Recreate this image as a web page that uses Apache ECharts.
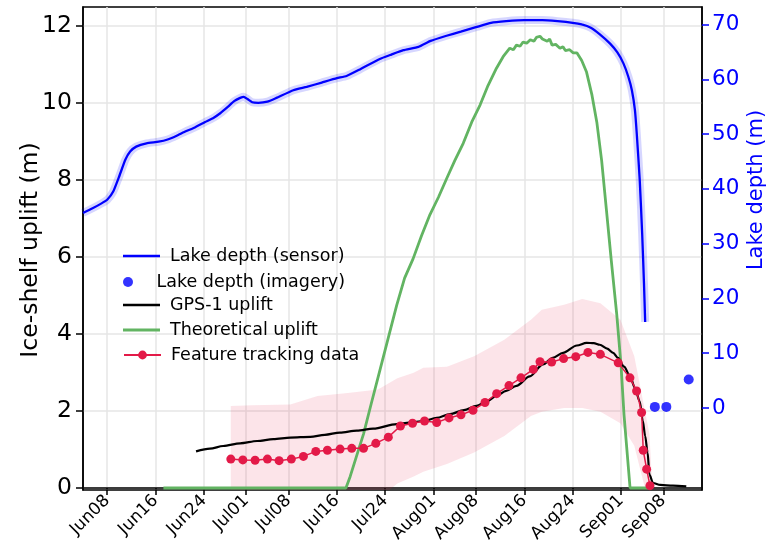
<!DOCTYPE html>
<html>
<head>
<meta charset="utf-8">
<script src="https://cdn.jsdelivr.net/npm/echarts/dist/echarts.min.js"></script>
<style>html,body{margin:0;padding:0;background:#fff}#c{width:769px;height:555px}</style>
</head>
<body>
<div id="c"></div>
<script>
// x values are day numbers counted from Jun 1 = 1
const tickDays = [8,16,24,31,38,46,54,62,69,77,85,93,100];
const tickLabels = ['Jun08','Jun16','Jun24','Jul01','Jul08','Jul16','Jul24','Aug01','Aug08','Aug16','Aug24','Sep01','Sep08'];
const upliftTicks = [0,2,4,6,8,10,12];
const depthTicks = [0,10,20,30,40,50,60,70];

const lakeSensor = [[4.0,35.6],[5.5,36.4],[7.0,37.3],[8.0,38.0],[9.0,39.5],[10.0,42.3],[11.0,45.3],[11.8,46.8],[12.8,47.7],[14.5,48.3],[16.5,48.6],[18.0,49.0],[19.5,49.7],[21.0,50.5],[22.5,51.2],[24.2,52.2],[25.5,52.9],[26.7,53.8],[28.0,55.0],[29.0,56.0],[30.0,56.6],[30.6,56.8],[31.2,56.4],[32.0,55.8],[33.0,55.7],[34.5,55.9],[36.0,56.6],[38.8,58.0],[41.0,58.6],[43.5,59.4],[46.0,60.2],[47.6,60.6],[49.8,61.8],[53.1,63.7],[55.0,64.5],[57.0,65.3],[59.5,65.9],[61.5,67.0],[64.0,67.9],[66.5,68.7],[69.0,69.5],[71.5,70.3],[74.0,70.6],[77.0,70.8],[80.0,70.8],[82.5,70.6],[85.0,70.3],[86.5,70.0],[88.0,69.4],[89.5,68.2],[91.2,66.5],[92.4,64.9],[93.4,62.9],[94.2,60.5],[94.8,58.0],[95.3,54.4],[95.6,50.2],[96.1,41.6],[96.5,31.9],[96.8,22.8],[97.0,15.7]];
const lakeImagery = [[98.6,0.2],[100.5,0.2],[104.2,5.2]];
const gpsUplift = [[22.7,0.95],[25.0,1.02],[27.2,1.09],[30.0,1.16],[32.8,1.22],[35.5,1.27],[38.3,1.31],[41.6,1.33],[44.0,1.38],[46.5,1.44],[49.3,1.49],[52.0,1.54],[55.9,1.66],[58.0,1.70],[60.3,1.74],[62.5,1.82],[64.7,1.92],[67.0,2.02],[69.1,2.13],[70.8,2.25],[72.4,2.39],[74.0,2.52],[75.7,2.65],[77.9,2.90],[80.1,3.21],[81.7,3.38],[83.4,3.51],[85.7,3.70],[87.3,3.77],[88.5,3.76],[89.5,3.72],[90.7,3.62],[91.7,3.51],[92.5,3.38],[93.5,3.15],[94.5,2.90],[95.3,2.60],[96.1,2.25],[96.6,1.75],[97.0,1.35],[97.4,0.92],[97.7,0.35],[98.3,0.13],[99.5,0.08],[101.6,0.06],[103.8,0.04]];
const theoretical = [[17.3,0],[47.5,0],[48.2,0.3],[49.2,0.8],[50.4,1.4],[51.7,2.2],[53.1,3.05],[54.5,3.9],[55.9,4.75],[57.2,5.45],[58.6,5.95],[60.0,6.55],[61.4,7.1],[62.8,7.55],[64.2,8.05],[65.5,8.5],[66.9,8.95],[68.3,9.5],[69.7,9.95],[71.0,10.45],[72.4,10.9],[73.5,11.2],[74.6,11.42],[75.2,11.38],[75.7,11.5],[76.3,11.47],[76.8,11.58],[77.4,11.55],[78.0,11.64],[78.6,11.6],[79.0,11.7],[79.6,11.73],[80.0,11.66],[80.3,11.7],[80.8,11.6],[81.2,11.66],[81.6,11.5],[82.2,11.52],[82.9,11.42],[83.4,11.46],[83.8,11.36],[84.5,11.38],[85.1,11.3],[85.7,11.3],[86.5,11.1],[87.3,10.8],[88.2,10.2],[89.0,9.5],[89.8,8.5],[90.6,7.2],[91.4,5.9],[92.3,4.5],[93.0,3.2],[93.5,1.9],[94.5,0],[98.0,0]];
const featureTracking = [[28.45,0.75],[30.44,0.73],[32.47,0.72],[34.51,0.75],[36.44,0.71],[38.47,0.75],[40.46,0.82],[42.51,0.95],[44.43,0.98],[46.53,1.01],[48.46,1.03],[50.41,1.03],[52.44,1.16],[54.51,1.32],[56.51,1.61],[58.51,1.68],[60.50,1.74],[62.51,1.70],[64.55,1.82],[66.53,1.90],[68.52,2.02],[70.50,2.22],[72.43,2.45],[74.47,2.66],[76.45,2.86],[78.49,3.08],[79.60,3.28],[81.53,3.27],[83.51,3.36],[85.52,3.41],[87.53,3.52],[89.58,3.47],[92.54,3.25],[94.48,2.86],[95.58,2.52],[96.41,1.96],[96.68,0.98],[97.24,0.49],[97.79,0.06]];
const bandDays  = [28.45,32.0,38.3,42.8,47.8,52.8,56.0,58.7,60.3,64.2,68.7,73.7,78.1,79.9,83.6,86.6,89.6,92.9,95.2,96.8,97.7,98.2];
const bandUpper = [2.13,2.15,2.17,2.39,2.47,2.56,2.85,2.99,3.12,3.15,3.42,3.85,4.37,4.63,4.76,4.91,4.80,4.37,3.42,2.13,1.40,0.0];
const bandLower = [-0.3,-0.3,-0.3,-0.3,-0.3,-0.3,0.12,0.30,0.42,0.62,0.92,1.35,1.87,1.98,2.08,2.08,1.98,1.68,1.10,0.10,-0.3,-0.3];

const FONT = 'DejaVu Sans';
const chart = echarts.init(document.getElementById('c'), null, {renderer: 'canvas'});

function legendAt(name, centerY, icon, h) {
  const lg = {
    data: [name], left: 118, top: centerY - 11, orient: 'vertical',
    itemWidth: 37, itemHeight: h,
    textStyle: {fontFamily: FONT, fontSize: 17.5, color: '#000', padding: [0,0,0,5]},
    selectedMode: false
  };
  if (icon) lg.icon = icon;
  return lg;
}

chart.setOption({
  animation: false,
  backgroundColor: '#fff',
  grid: {left: 83, right: 67, top: 7, bottom: 65, show: true, borderColor: '#000', borderWidth: 1.5, backgroundColor: 'transparent'},
  legend: [
    legendAt('Lake depth (sensor)', 253, 'rect', 2.5),
    legendAt('Lake depth (imagery)', 279, 'circle', 10),
    legendAt('GPS-1 uplift', 302, 'rect', 2.5),
    legendAt('Theoretical uplift', 327, 'rect', 3),
    legendAt('Feature tracking data', 352, null, 11)
  ],
  graphic: [
    {type: 'text', x: 31, y: 250, rotation: Math.PI / 2, silent: true,
      style: {text: 'Ice-shelf uplift (m)', fontFamily: FONT, fontSize: 23.5, fill: '#000', textAlign: 'center', textVerticalAlign: 'middle'}},
    {type: 'text', x: 757, y: 190, rotation: Math.PI / 2, silent: true,
      style: {text: 'Lake depth (m)', fontFamily: FONT, fontSize: 21, fill: '#0000ff', textAlign: 'center', textVerticalAlign: 'middle'}}
  ],
  xAxis: {
    type: 'value', min: 4, max: 106.4,
    axisLine: {show: true, lineStyle: {color: '#000', width: 1.5}},
    axisTick: {show: true, customValues: tickDays, length: 7, lineStyle: {color: '#000', width: 1.5}},
    axisLabel: {customValues: tickDays, rotate: 45, margin: 8, fontFamily: FONT, fontSize: 17, color: '#000',
      formatter: function (v) { const i = tickDays.indexOf(v); return i >= 0 ? tickLabels[i] : ''; }},
    splitLine: {show: true, lineStyle: {color: '#e6e6e6', width: 1.5}}
  },
  yAxis: [
    {
      type: 'value', min: -0.052, max: 12.49, position: 'left',
      axisLine: {show: true, lineStyle: {color: '#000', width: 1.5}},
      axisTick: {show: true, customValues: upliftTicks, length: 7, lineStyle: {color: '#000', width: 1.5}},
      axisLabel: {customValues: upliftTicks, margin: 11, fontFamily: FONT, fontSize: 23.5, color: '#000'},
      splitLine: {show: true, lineStyle: {color: '#e6e6e6', width: 1.5}}
    },
    {
      type: 'value', min: -14.97, max: 73.19, position: 'right',
      axisLine: {show: true, lineStyle: {color: '#000', width: 1.5}},
      axisTick: {show: true, customValues: depthTicks, length: 7, lineStyle: {color: '#0000ff', width: 1.5}},
      axisLabel: {customValues: depthTicks, margin: 10, fontFamily: FONT, fontSize: 21.5, color: '#0000ff'},
      splitLine: {show: false}
    }
  ],
  series: [
    {
      name: 'band', type: 'custom', xAxisIndex: 0, yAxisIndex: 0, silent: true, clip: true, z: 1,
      data: bandDays.map(function (d, i) { return [d, bandUpper[i]]; }),
      renderItem: function (params, api) {
        if (params.dataIndex !== 0) return null;
        const pts = [];
        for (let i = 0; i < bandDays.length; i++) pts.push(api.coord([bandDays[i], bandUpper[i]]));
        for (let i = bandDays.length - 1; i >= 0; i--) pts.push(api.coord([bandDays[i], bandLower[i]]));
        return {type: 'polygon', shape: {points: pts}, style: {fill: 'rgba(230,30,72,0.12)'}};
      }
    },
    {
      name: 'sensorBand', type: 'line', yAxisIndex: 1, data: lakeSensor, symbol: 'none', silent: true, z: 2,
      smooth: 0.15,
      lineStyle: {color: 'rgba(0,0,255,0.16)', width: 8}
    },
    {
      name: 'Lake depth (sensor)', type: 'line', yAxisIndex: 1, data: lakeSensor, symbol: 'none', z: 5,
      smooth: 0.15,
      lineStyle: {color: '#0000ff', width: 2.3}, itemStyle: {color: '#0000ff'}
    },
    {
      name: 'Lake depth (imagery)', type: 'scatter', yAxisIndex: 1, data: lakeImagery, symbol: 'circle', symbolSize: 10, z: 5,
      itemStyle: {color: '#0000ff'}
    },
    {
      name: 'Theoretical uplift', type: 'line', yAxisIndex: 0, data: theoretical, symbol: 'none', z: 3,
      lineStyle: {color: '#62b462', width: 2.8}, itemStyle: {color: '#62b462'}
    },
    {
      name: 'GPS-1 uplift', type: 'line', yAxisIndex: 0, data: gpsUplift, symbol: 'none', z: 4,
      smooth: 0.3, smoothMonotone: 'x',
      lineStyle: {color: '#000', width: 2.2}, itemStyle: {color: '#000'}
    },
    {
      name: 'Feature tracking data', type: 'line', yAxisIndex: 0, data: featureTracking, symbol: 'circle', symbolSize: 9, z: 4,
      lineStyle: {color: '#e31a48', width: 1.5}, itemStyle: {color: '#e31a48'}
    }
  ]
});
</script>
</body>
</html>
